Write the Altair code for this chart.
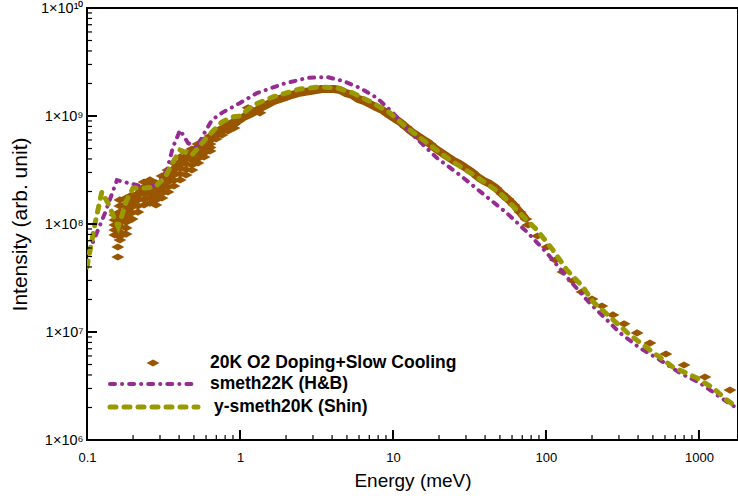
import altair as alt
import pandas as pd

FONT = "Liberation Sans"
BROWN = "#995500"
PURPLE = "#952C92"
OLIVE = "#999900"

# ---- measured spectrum: 20K O2 Doping+Slow Cooling (diamonds) ----
# main band of dense time-of-flight bins
band_energy = [
    0.159, 0.174, 0.191, 0.209, 0.229, 0.250, 0.274, 0.300, 0.328, 0.359,
    0.393, 0.431, 0.471, 0.516, 0.564, 0.618, 0.676, 0.740, 0.810, 0.887,
    0.970, 1.062, 1.163, 1.272, 1.393, 1.524, 1.668, 1.826, 1.999, 2.187,
    2.394, 2.620, 2.868, 3.139, 3.435, 3.760, 4.115, 4.505, 4.930, 5.396,
    5.906, 6.464, 7.074, 7.743, 8.475, 9.275, 10.15, 11.11, 12.16, 13.31,
    14.57, 15.94, 17.45, 19.10, 20.91, 22.88, 25.05, 27.41, 30.00, 32.84,
    35.94, 39.34, 43.06, 47.13, 51.58, 56.45, 61.79, 67.63, 74.02,
]
band_intensity = [
    9.79e7, 1.26e8, 1.47e8, 1.78e8, 2.11e8, 2.25e8, 2.02e8, 2.07e8, 2.56e8, 3.03e8,
    3.52e8, 4.00e8, 4.26e8, 4.74e8, 5.39e8, 5.87e8, 6.53e8, 7.11e8, 7.74e8, 8.25e8,
    8.99e8, 9.79e8, 1.04e9, 1.11e9, 1.21e9, 1.29e9, 1.38e9, 1.44e9, 1.50e9, 1.57e9,
    1.63e9, 1.67e9, 1.70e9, 1.74e9, 1.78e9, 1.78e9, 1.78e9, 1.74e9, 1.63e9, 1.57e9,
    1.44e9, 1.38e9, 1.29e9, 1.21e9, 1.14e9, 1.04e9, 9.58e8, 8.80e8, 7.91e8, 7.11e8,
    6.53e8, 6.00e8, 5.51e8, 4.95e8, 4.54e8, 4.17e8, 3.83e8, 3.59e8, 3.30e8, 3.03e8,
    2.72e8, 2.50e8, 2.35e8, 2.15e8, 1.90e8, 1.70e8, 1.50e8, 1.29e8, 1.11e8,
]
# scattered low-energy bins (the broad noisy blob below ~1 meV)
scatter_energy = [
    0.159, 0.159,
    0.152, 0.152, 0.152, 0.152, 0.152,
    0.164, 0.164, 0.164, 0.164, 0.164, 0.164, 0.164, 0.164, 0.164,
    0.180, 0.180, 0.180, 0.180, 0.180, 0.180, 0.180,
    0.197, 0.197, 0.197, 0.197, 0.197,
    0.215, 0.215, 0.215, 0.215, 0.215,
    0.236, 0.236, 0.236, 0.236, 0.236,
    0.258, 0.258, 0.258, 0.258, 0.258,
    0.282, 0.282, 0.282, 0.282, 0.282,
    0.309, 0.309, 0.309, 0.309, 0.309,
    0.338, 0.338, 0.338, 0.338, 0.338,
    0.370, 0.370, 0.370, 0.370, 0.370,
    0.406, 0.406, 0.406, 0.406, 0.406,
    0.444, 0.444, 0.444, 0.444, 0.444,
    0.485, 0.485, 0.485, 0.485, 0.485,
    0.531, 0.531, 0.531, 0.531, 0.531,
    0.582, 0.582, 0.582, 0.582, 0.582,
    0.637, 0.637, 0.637, 0.637, 0.637,
    0.697, 0.697, 0.697,
    0.762, 0.762, 0.762,
    0.835, 0.835, 0.835,
    0.914, 0.914, 0.914,
    1.13, 1.35,
]
scatter_intensity = [
    6.12e7, 4.95e7,
    1.21e8, 1.09e8, 9.79e7, 8.8e7, 7.91e7,
    1.67e8, 1.47e8, 1.29e8, 1.16e8, 1.04e8, 9.4e7, 8.43e7, 7.7e7, 7.11e7,
    1.74e8, 1.53e8, 1.35e8, 1.19e8, 1.04e8, 9.2e7, 8.07e7,
    1.86e8, 1.64e8, 1.44e8, 1.27e8, 1.11e8,
    2.15e8, 1.90e8, 1.67e8, 1.47e8, 1.29e8,
    2.45e8, 2.16e8, 1.90e8, 1.69e8, 1.50e8,
    2.56e8, 2.25e8, 1.98e8, 1.76e8, 1.56e8,
    2.40e8, 2.11e8, 1.86e8, 1.67e8, 1.50e8,
    2.78e8, 2.45e8, 2.15e8, 1.93e8, 1.74e8,
    3.16e8, 2.78e8, 2.45e8, 2.20e8, 1.98e8,
    3.67e8, 3.23e8, 2.84e8, 2.53e8, 2.25e8,
    4.17e8, 3.71e8, 3.30e8, 2.91e8, 2.56e8,
    4.54e8, 4.04e8, 3.59e8, 3.19e8, 2.84e8,
    4.95e8, 4.40e8, 3.91e8, 3.52e8, 3.16e8,
    5.51e8, 4.95e8, 4.45e8, 4.04e8, 3.67e8,
    6.00e8, 5.45e8, 4.95e8, 4.54e8, 4.17e8,
    6.53e8, 6.00e8, 5.51e8, 5.11e8, 4.74e8,
    7.11e8, 6.60e8, 6.12e8,
    7.74e8, 7.19e8, 6.67e8,
    8.43e8, 7.82e8, 7.26e8,
    8.99e8, 8.34e8, 7.74e8,
    1.19e9, 1.07e9,
]
# sparse high-energy bins
sparse_energy = [
    76.3, 88.0, 101.6, 115.0, 129.0, 150.0, 172.0, 200.0, 232.0, 274.0,
    324.0, 394.0, 478.0, 608.0, 798.0, 1094.0, 1595.0,
]
sparse_intensity = [
    9.79e7, 7.74e7, 6.12e7, 4.64e7, 3.60e7, 2.97e7, 2.35e7, 2.02e7, 1.74e7, 1.44e7,
    1.19e7, 9.8e6, 7.9e6, 6.25e6, 4.95e6, 3.83e6, 2.9e6,
]

# ---- smeth22K (H&B) ----
hb_energy = [
    0.102, 0.113, 0.131, 0.157, 0.185, 0.239, 0.287, 0.333, 0.365, 0.406,
    0.457, 0.524, 0.565, 0.656, 0.762, 1.0, 1.29, 1.91, 2.74, 3.70,
    4.71, 6.09, 7.86, 10.0, 13.5, 19.4, 27.4, 41.1, 55.6, 75.2,
    101.6, 137.0, 185.0, 225.0, 305.0, 411.0, 556.0, 752.0, 1016.0, 1371.0,
    1799.0,
]
hb_intensity = [
    5.38e7, 7.59e7, 1.26e8, 2.55e8, 2.40e8, 2.20e8, 2.30e8, 3.16e8, 5.16e8, 7.41e8,
    5.62e8, 5.06e8, 6.39e8, 9.18e8, 1.07e9, 1.32e9, 1.63e9, 1.98e9, 2.25e9, 2.30e9,
    2.11e9, 1.82e9, 1.47e9, 1.07e9, 6.67e8, 4.08e8, 2.84e8, 1.78e8, 1.26e8, 8.43e7,
    5.38e7, 3.23e7, 1.98e7, 1.50e7, 9.8e6, 7.11e6, 5.51e6, 4.17e6, 3.37e6, 2.50e6,
    1.94e6,
]

# ---- y-smeth20K (Shin) ----
shin_energy = [
    0.100, 0.113, 0.125, 0.137, 0.160, 0.182, 0.200, 0.239, 0.278, 0.324,
    0.365, 0.406, 0.485, 0.565, 0.656, 0.762, 0.887, 1.0, 1.22, 1.64,
    2.47, 3.33, 4.31, 5.48, 7.40, 9.55, 12.4, 16.7, 23.6, 35.4,
    50.0, 67.6, 87.3, 111.0, 137.0, 175.0, 203.0, 262.0, 354.0, 478.0,
    676.0, 970.0, 1236.0, 1524.0, 1799.0,
]
shin_intensity = [
    4.0e7, 1.02e8, 1.98e8, 1.56e8, 9.38e7, 1.67e8, 2.15e8, 2.15e8, 2.20e8, 2.72e8,
    3.75e8, 4.84e8, 4.35e8, 5.62e8, 7.11e8, 8.80e8, 9.79e8, 1.0e9, 1.26e9, 1.50e9,
    1.78e9, 1.86e9, 1.82e9, 1.63e9, 1.32e9, 1.07e9, 7.74e8, 5.62e8, 3.92e8, 2.72e8,
    1.94e8, 1.26e8, 8.8e7, 5.74e7, 3.75e7, 2.61e7, 1.90e7, 1.38e7, 9.38e6, 6.81e6,
    4.74e6, 3.75e6, 3.03e6, 2.34e6, 1.98e6,
]

legend_labels = ["20K O2 Doping+Slow Cooling", "smeth22K (H&B)", "y-smeth20K (Shin)"]

x_major = [0.1, 1, 10, 100, 1000]
x_minor = [0.2, 0.3, 0.4, 0.5, 0.6, 0.7, 0.8, 0.9,
           2, 3, 4, 5, 6, 7, 8, 9,
           20, 30, 40, 50, 60, 70, 80, 90,
           200, 300, 400, 500, 600, 700, 800, 900]
y_major = [1e6, 1e7, 1e8, 1e9, 1e10]
y_minor = [m * 10 ** e for e in range(6, 10) for m in range(2, 10)]

W, H = 651, 432
xs = alt.Scale(type="log", domain=[0.1, 1800], nice=False)
ys = alt.Scale(type="log", domain=[1e6, 1e10], nice=False)

x_axis = alt.Axis(
    values=x_major, format="~g", ticks=False, grid=False, domain=False,
    labelFlush=False, labelOverlap=False, labelPadding=11, labelFontSize=13,
    labelFont=FONT, labelColor="black",
    title="Energy (meV)", titleFontSize=19, titleFontWeight="normal",
    titleFont=FONT, titleColor="black",
    titleX=W / 2, titleY=40, titleBaseline="middle", titleAlign="center",
)
y_axis = alt.Axis(
    values=y_major, ticks=False, grid=False, domain=False,
    labelFlush=False, labelOverlap=False, labelPadding=4, labelFontSize=14.5,
    labelFont=FONT, labelColor="black",
    labelExpr=("datum.value > 5e9 ? '1×10¹⁰' : datum.value > 5e8 ? '1×10⁹' : "
               "datum.value > 5e7 ? '1×10⁸' : datum.value > 5e6 ? '1×10⁷' : '1×10⁶'"),
    title="Intensity (arb. unit)", titleFontSize=21, titleFontWeight="normal",
    titleFont=FONT, titleColor="black",
    titleX=-67, titleY=H / 2, titleAngle=-90, titleBaseline="middle", titleAlign="center",
)

X = alt.X("E:Q", scale=xs, axis=x_axis)
Y = alt.Y("I:Q", scale=ys, axis=y_axis)

DIAMOND = "M-1,0L0,-0.55L1,0L0,0.55Z"

band = pd.DataFrame({"E": band_energy, "I": band_intensity})
meas = pd.DataFrame({
    "E": band_energy + scatter_energy + sparse_energy,
    "I": band_intensity + scatter_intensity + sparse_intensity,
})
hb = pd.DataFrame({"E": hb_energy, "I": hb_intensity})
shin = pd.DataFrame({"E": shin_energy, "I": shin_intensity})

band_line = alt.Chart(band).mark_line(
    color=BROWN, strokeWidth=8, strokeJoin="round", clip=True
).encode(x=X, y=Y)

points = alt.Chart(meas).mark_point(
    shape=DIAMOND, filled=True, color=BROWN, size=169, opacity=1, clip=True
).encode(x=X, y=Y)

hb_line = alt.Chart(hb).mark_line(
    color=PURPLE, strokeWidth=4, strokeDash=[5, 7, 0.1, 7], strokeCap="round", clip=True
).encode(x=X, y=Y)

shin_line = alt.Chart(shin).mark_line(
    color=OLIVE, strokeWidth=5, strokeDash=[6, 8], strokeCap="round", clip=True
).encode(x=X, y=Y)


# inward ticks
def xticks(vals, length, width):
    return alt.Chart(pd.DataFrame({"E": vals})).mark_rule(color="black", strokeWidth=width).encode(
        x=X, y=alt.value(H), y2=alt.value(H - length)
    )


def yticks(vals, length, width):
    return alt.Chart(pd.DataFrame({"I": vals})).mark_rule(color="black", strokeWidth=width).encode(
        y=Y, x=alt.value(0), x2=alt.value(length)
    )


ticks = [xticks(x_major, 10, 2), xticks(x_minor, 5, 1.2),
         yticks(y_major, 10, 2), yticks(y_minor, 5, 1.2)]

# legend
one = pd.DataFrame({"k": [0]})
leg_diamond = alt.Chart(one).mark_point(
    shape=DIAMOND, filled=True, color=BROWN, size=169, opacity=1
).encode(x=alt.value(66), y=alt.value(355))
leg_hb = alt.Chart(one).mark_rule(
    color=PURPLE, strokeWidth=4, strokeDash=[5, 7, 0.1, 7], strokeCap="round"
).encode(x=alt.value(23), x2=alt.value(106), y=alt.value(376))
leg_shin = alt.Chart(one).mark_rule(
    color=OLIVE, strokeWidth=5, strokeDash=[6, 8], strokeCap="round"
).encode(x=alt.value(23), x2=alt.value(111), y=alt.value(399))


def leg_text(label, x, y):
    return alt.Chart(one).mark_text(
        align="left", baseline="middle", font=FONT, fontSize=17.5, fontWeight="bold", color="black"
    ).encode(x=alt.value(x), y=alt.value(y), text=alt.value(label))


legend = [leg_diamond, leg_hb, leg_shin,
          leg_text(legend_labels[0], 123, 355),
          leg_text(legend_labels[1], 123, 376),
          leg_text(legend_labels[2], 127, 399)]

chart = alt.layer(band_line, points, hb_line, shin_line, *ticks, *legend).properties(
    width=W, height=H,
    padding={"left": 87, "top": 8, "right": 0, "bottom": 56},
    autosize=alt.AutoSizeParams(type="none"),
    background="white",
).configure_view(
    stroke="black", strokeWidth=2
)

chart.save("out.html", embed_options={"renderer": "svg", "actions": False})
